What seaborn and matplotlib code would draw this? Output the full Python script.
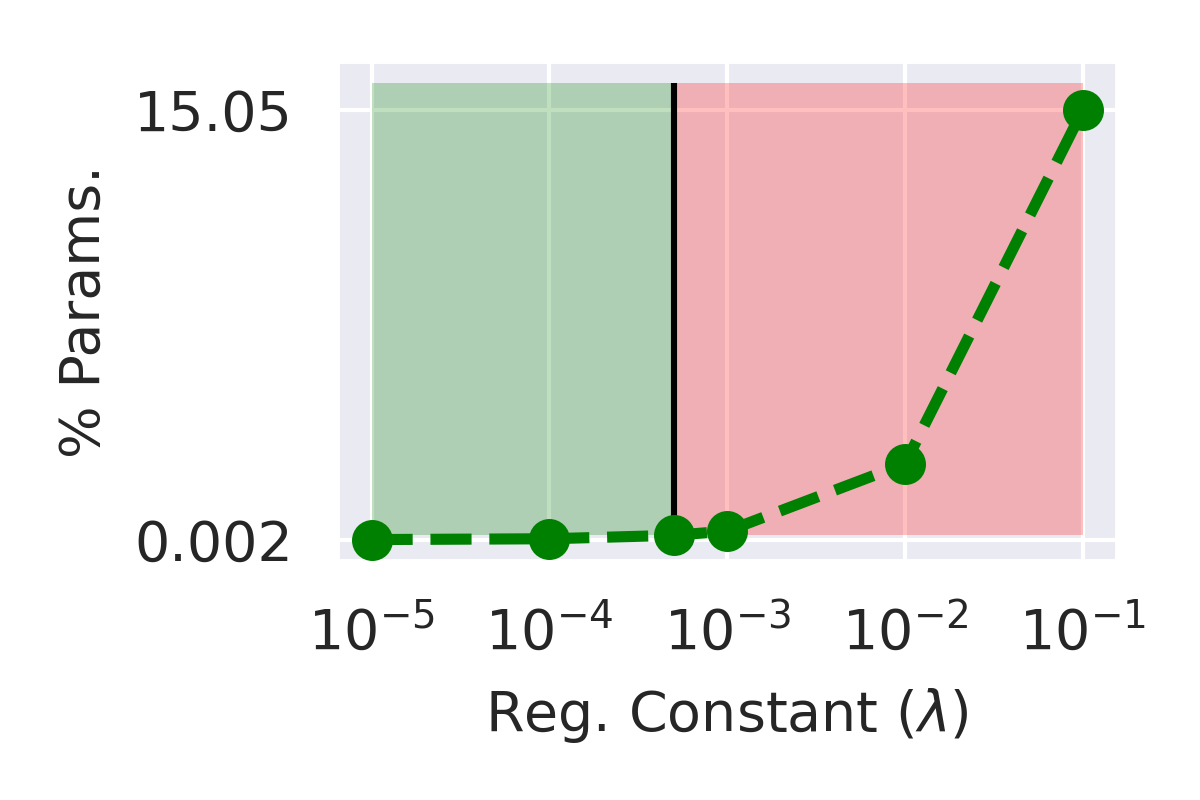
import numpy as np
import pandas as pd
import matplotlib
matplotlib.use("Agg")
import matplotlib.pyplot as plt
import seaborn as sns

lambdas = [1e-5, 1e-4, 5e-4, 1e-3, 1e-2, 1e-1]
params_pct = [0.002, 0.03, 0.15, 0.30, 2.66, 15.05]
threshold = 5e-4
band_low, band_high = 0.15, 16.0
ytick_vals = [0.002, 15.05]
ytick_labels = ["0.002", "15.05"]

sns.set_theme(style="darkgrid", context="poster",
              rc={"xtick.labelsize": 20, "ytick.labelsize": 20, "axes.labelsize": 20,
                  "grid.linewidth": 1.5})

fig, ax = plt.subplots(figsize=(6, 4), dpi=200)

ax.fill_between([lambdas[0], threshold], band_low, band_high, color="green", alpha=0.25, linewidth=0)
ax.fill_between([threshold, lambdas[-1]], band_low, band_high, color="red", alpha=0.25, linewidth=0)
ax.vlines(threshold, band_low, band_high, color="black", linewidth=2.2, zorder=3)

df = pd.DataFrame({"lam": lambdas, "pct": params_pct})
sns.lineplot(data=df, x="lam", y="pct", ax=ax, color="green", marker="o",
             linestyle="--", linewidth=4, markersize=14,
             markeredgecolor="green", zorder=4)

ax.set_xscale("log")
ax.set_xticks([1e-5, 1e-4, 1e-3, 1e-2, 1e-1])
ax.minorticks_off()
ax.set_yticks(ytick_vals)
ax.set_yticklabels(ytick_labels)
ax.set_xlabel(r"Reg. Constant ($\lambda$)", labelpad=9)
ax.set_ylabel("% Params.", labelpad=8)

fig.subplots_adjust(left=0.28, right=0.932, top=0.925, bottom=0.297)
fig.savefig("out.png", dpi=200)
